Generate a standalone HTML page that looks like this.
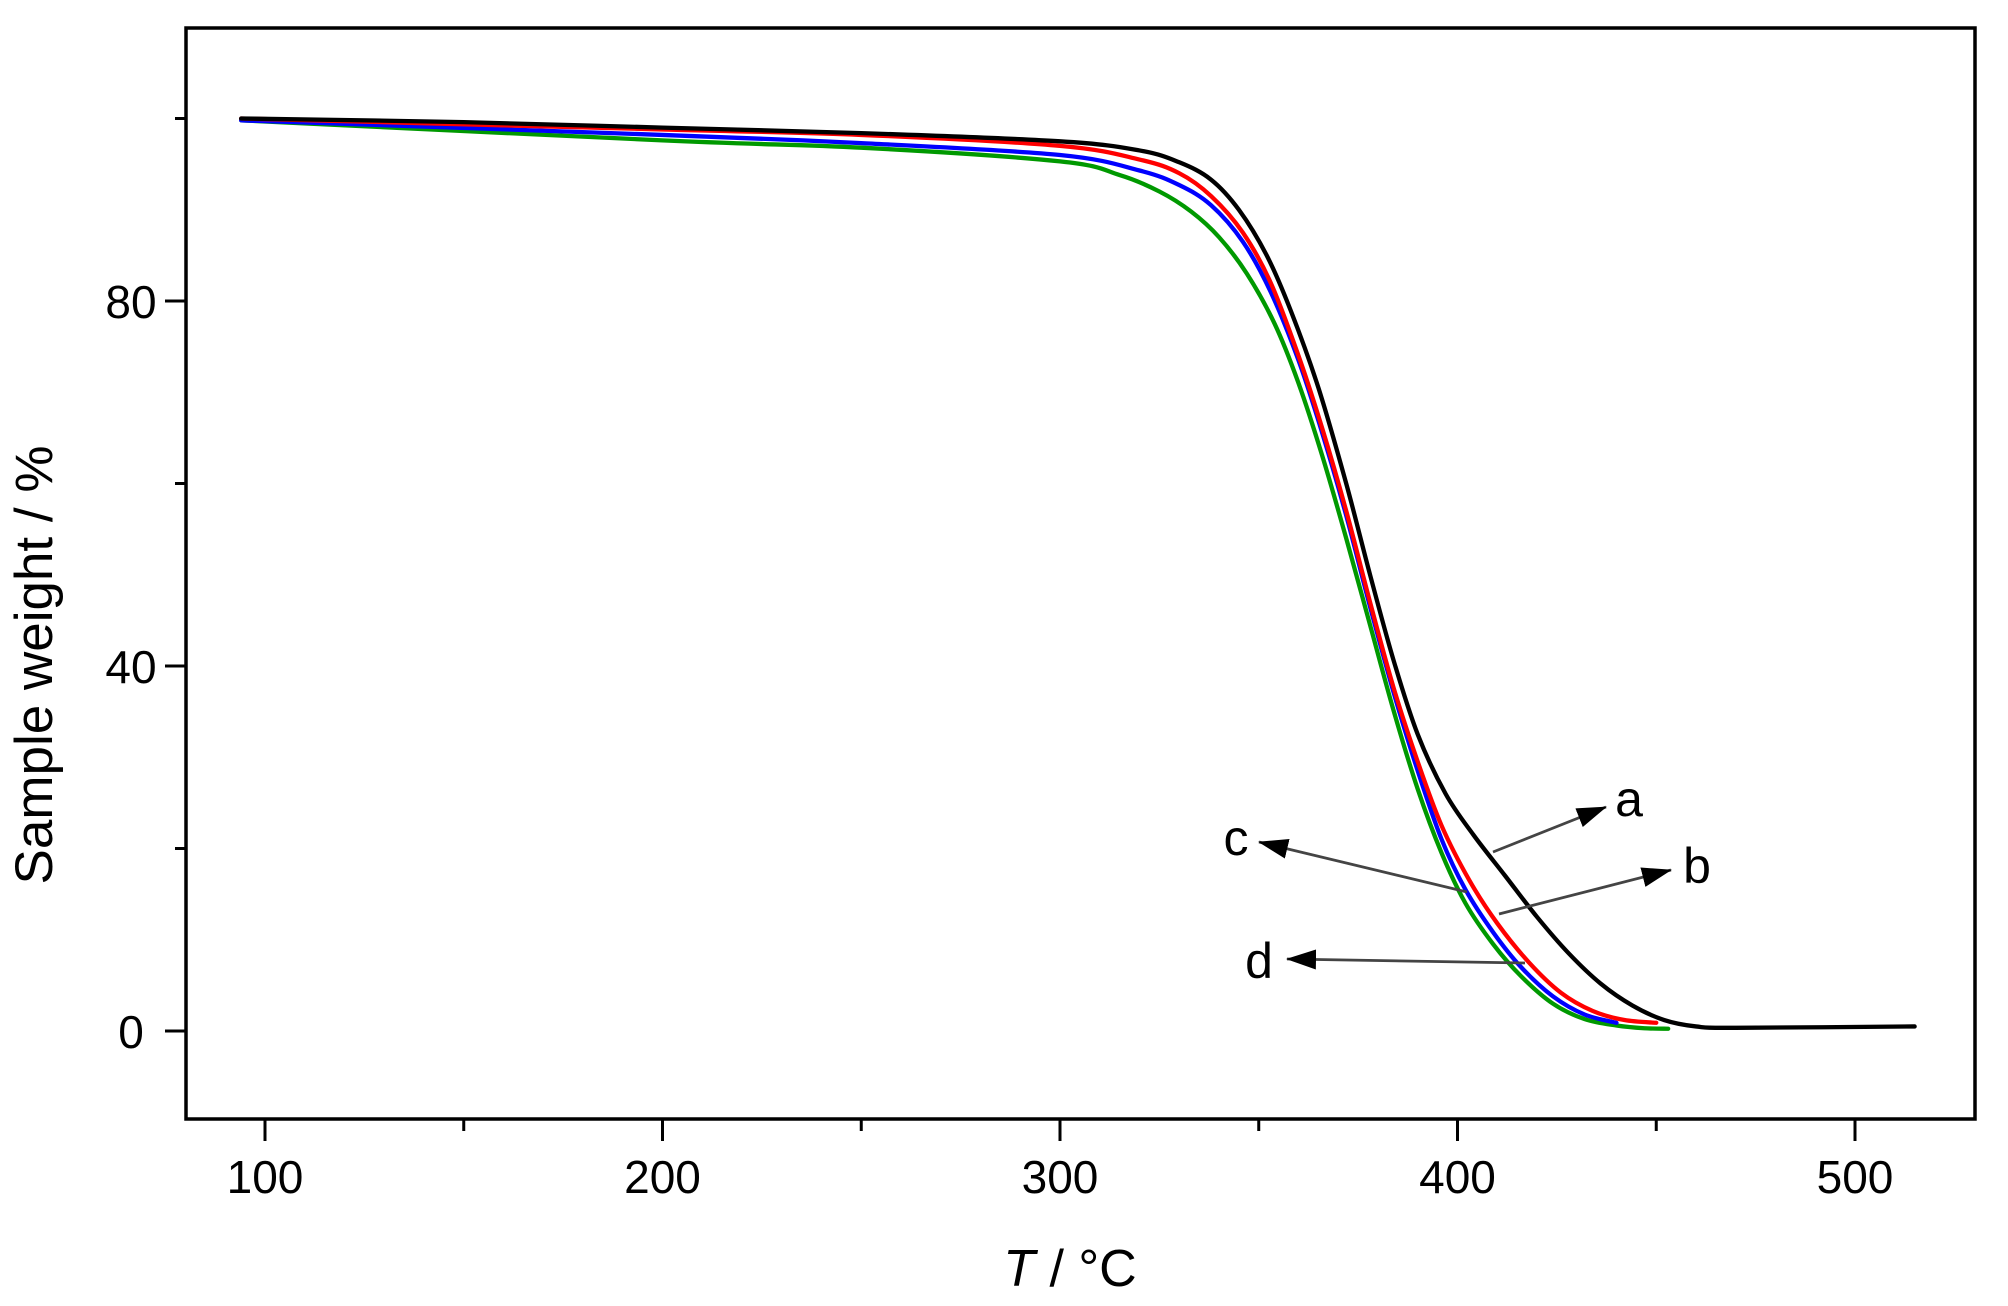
<!DOCTYPE html>
<html><head><meta charset="utf-8"><style>
html,body{margin:0;padding:0;background:#fff;}
svg{display:block;}
text{font-family:"Liberation Sans",Arial,sans-serif;fill:#000;}
</style></head><body>
<svg id="s" width="2008" height="1306" viewBox="0 0 2008 1306" xmlns="http://www.w3.org/2000/svg">
<defs>
<marker id="ar" viewBox="0 0 30 20" refX="29" refY="10" markerWidth="30" markerHeight="20" orient="auto" markerUnits="userSpaceOnUse"><path d="M0,0 L30,10 L0,20 z" fill="#000"/></marker></defs>
<rect x="186" y="28" width="1789" height="1091" fill="none" stroke="#000" stroke-width="3.5"/>
<g id="ticks" stroke="#000" stroke-width="3"></g>
<g id="curves" fill="none" stroke-width="4.3" stroke-linejoin="round" stroke-linecap="round"></g>
<g stroke="#444" stroke-width="2.8" fill="none">
<line x1="1493" y1="852" x2="1606" y2="807" marker-end="url(#ar)"/>
<line x1="1499" y1="914" x2="1671" y2="870" marker-end="url(#ar)"/>
<line x1="1467" y1="892" x2="1259" y2="842" marker-end="url(#ar)"/>
<line x1="1525" y1="963" x2="1287" y2="959" marker-end="url(#ar)"/>
</g>
<g font-size="50" text-anchor="middle">
<text x="1629" y="816">a</text>
<text x="1697" y="883">b</text>
<text x="1236" y="855">c</text>
<text x="1259" y="978">d</text>
</g>
<g id="labels" font-size="46" text-anchor="middle"></g>
<text x="1070" y="1286" font-size="52" text-anchor="middle"><tspan font-style="italic">T</tspan> / °C</text>
<text transform="translate(52,665) rotate(-90)" font-size="53" text-anchor="middle">Sample weight / %</text>
</svg>
<script>
var NS="http://www.w3.org/2000/svg";
function X(t){return 265+(t-100)*3.975;}
function Y(w){return 1031-w*9.125;}
function el(p,tag,a,txt){var e=document.createElementNS(NS,tag);for(var k in a)e.setAttribute(k,a[k]);if(txt)e.textContent=txt;document.getElementById(p).appendChild(e);}
var BY=1119,LX=186;
for(var t=100;t<=500;t+=50){var maj=t%100==0;el("ticks","line",{x1:X(t),y1:BY,x2:X(t),y2:BY+(maj?22:12)});if(maj)el("labels","text",{x:X(t),y:BY+74},String(t));}
for(var w=0;w<=100;w+=20){var maj=w%40==0;el("ticks","line",{x1:LX,y1:Y(w),x2:LX-(maj?21:11),y2:Y(w)});if(maj)el("labels","text",{x:LX-55,y:Y(w)+17},String(w));}
var data={
"#000":[[94,100],[150,99.6],[200,99],[250,98.4],[300,97.5],[320,96.5],[330,95.2],[338,93.3],[345,90],[352,85],[358,79],[365,70.5],[372,60],[378,50],[384,40.5],[390,32.5],[397,26],[404,21.5],[412,17],[420,12.5],[428,8.5],[436,5.2],[444,2.8],[452,1.2],[460,0.5],[470,0.35],[515,0.5]],
"#ff0000":[[94,100],[200,98.8],[250,98.2],[300,97],[320,95.5],[330,94],[338,91.5],[346,87.5],[353,82],[360,74],[366,66],[372,57],[378,47],[384,37.5],[390,29.5],[396,22.5],[403,16.5],[410,11.8],[418,7.5],[426,4.2],[434,2.2],[442,1.2],[450,0.9]],
"#0000ff":[[94,99.8],[200,98.2],[250,97.3],[300,96],[320,94.3],[330,92.7],[338,90.5],[346,86.5],[353,81],[360,73.5],[366,65.5],[372,56.5],[378,46.5],[384,37],[390,28.5],[396,21],[402,15.5],[409,10.8],[416,7],[424,3.8],[432,1.8],[440,0.9]],
"#009900":[[94,99.8],[200,97.6],[250,96.8],[300,95.3],[315,93.8],[325,92],[333,89.8],[340,87],[347,83],[354,77.5],[360,71],[366,63],[372,54],[378,44.5],[384,35],[390,26.5],[396,19.5],[402,14],[409,9.5],[416,6],[424,3],[432,1.3],[440,0.6],[447,0.3],[453,0.25]]};
var order=["#009900","#0000ff","#ff0000","#000"];
order.forEach(function(c){var p=data[c].map(function(q){return [X(q[0]),Y(q[1])];});
var d="M"+p[0][0]+","+p[0][1];
for(var i=0;i<p.length-1;i++){var p0=p[i-1]||p[i],p1=p[i],p2=p[i+1],p3=p[i+2]||p2;
d+=" C"+(p1[0]+(p2[0]-p0[0])/6)+","+(p1[1]+(p2[1]-p0[1])/6)+" "+(p2[0]-(p3[0]-p1[0])/6)+","+(p2[1]-(p3[1]-p1[1])/6)+" "+p2[0]+","+p2[1];}
el("curves","path",{d:d,stroke:c});});
</script>
</body></html>
